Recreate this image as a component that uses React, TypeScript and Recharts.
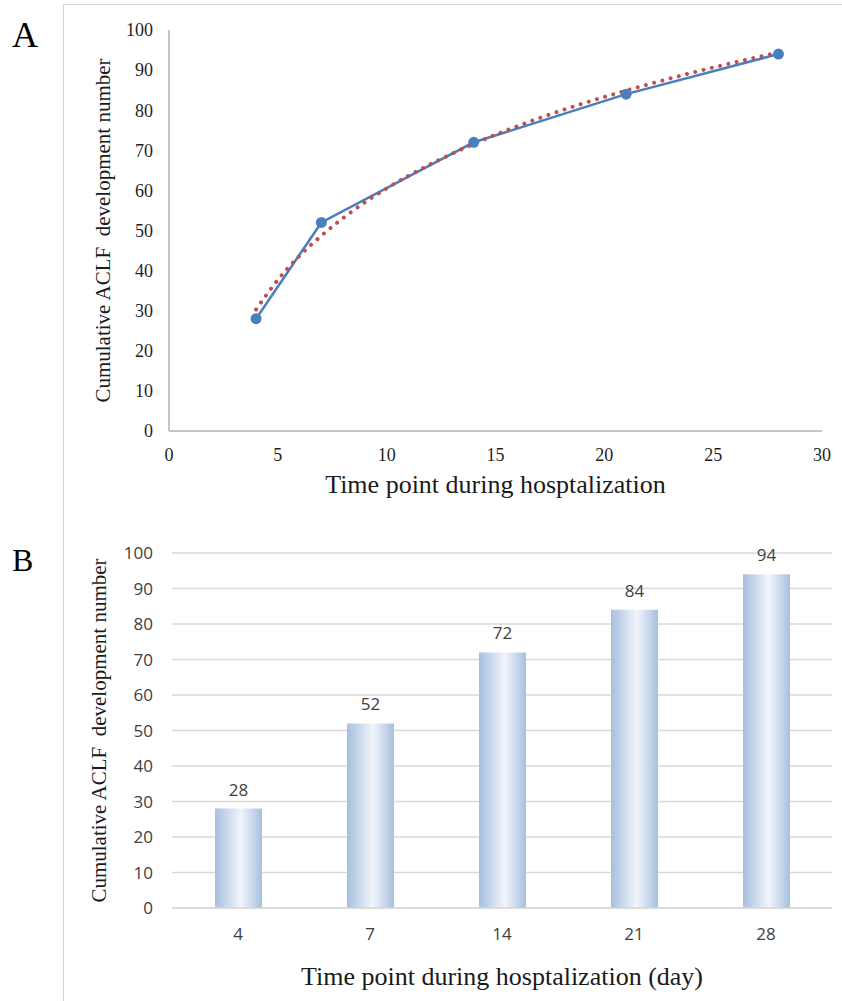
import React from 'react'
import {
  LineChart, Line, BarChart, Bar, XAxis, YAxis, CartesianGrid, LabelList, Label
} from 'recharts'

// panel A: cumulative ACLF cases by day, with the dotted log trend
const days = [4, 7, 14, 21, 28]
const cumulative = [28, 52, 72, 84, 94]
const trendDays = [4, 5, 6, 7, 8, 10, 12, 14, 17, 21, 24, 28]
const trendValues = [30.3, 37.7, 43.7, 48.7, 53.1, 60.5, 66.5, 71.6, 78.0, 84.9, 89.3, 94.4]

const xTicksA = [0, 5, 10, 15, 20, 25, 30]
const yTicks = [0, 10, 20, 30, 40, 50, 60, 70, 80, 90, 100]

// panel B: same counts as categories
const dayLabels = ['4', '7', '14', '21', '28']

const yTitle = 'Cumulative ACLF  development number'
const xTitleA = 'Time point during hosptalization'
const xTitleB = 'Time point during hosptalization (day)'

const SERIF = '"Liberation Serif", "Times New Roman", serif'
const SANS = '"Open Sans", "Liberation Sans", sans-serif'

const pointsA = days.map((d, i) => ({ x: d, y: cumulative[i] }))
const trendA = trendDays.map((d, i) => ({ x: d, y: trendValues[i] }))
const barsB = dayLabels.map((d, i) => ({ day: d, value: cumulative[i] }))

const serifTick = { fontFamily: SERIF, fontSize: 18, fill: '#1f1f1f', style: { fontFamily: SERIF } }
const sansTick = { fontFamily: SANS, fontSize: 17, fill: '#404040', style: { fontFamily: SANS } }

function yTitleContent(baselineX: number, size: number) {
  return (props: any) => {
    const vb = props.viewBox || {}
    const cy = vb.y + vb.height / 2
    return (
      <text
        x={baselineX}
        y={cy}
        transform={`rotate(-90 ${baselineX} ${cy})`}
        textAnchor="middle"
        fontFamily={SERIF}
        fontSize={size}
        fill="#1a1a1a"
        style={{ whiteSpace: 'pre', fontFamily: SERIF }}
      >
        {yTitle}
      </text>
    )
  }
}

function PanelA() {
  return (
    <LineChart
      width={842}
      height={501}
      margin={{ top: 30, right: 20, bottom: 0, left: 0 }}
    >
      <XAxis
        type="number"
        dataKey="x"
        domain={[0, 30]}
        ticks={xTicksA}
        interval={0}
        height={70}
        axisLine={{ stroke: '#c4c4c4', strokeWidth: 2 }}
        tickLine={false}
        tickSize={0}
        tickMargin={17}
        tick={serifTick}
      >
        <Label
          value={xTitleA}
          position="insideBottom"
          offset={8}
          fontFamily={SERIF}
          fontSize={26}
          fill="#1a1a1a"
        />
      </XAxis>
      <YAxis
        type="number"
        domain={[0, 100]}
        ticks={yTicks}
        interval={0}
        width={169}
        axisLine={{ stroke: '#c4c4c4', strokeWidth: 2 }}
        tickLine={false}
        tickSize={0}
        tickMargin={16}
        tick={serifTick}
      >
        <Label content={yTitleContent(110, 21)} />
      </YAxis>
      <Line
        data={pointsA}
        dataKey="y"
        type="linear"
        stroke="#4a7ebf"
        strokeWidth={2.5}
        dot={{ r: 5.5, fill: '#4a7ebf', stroke: '#4a7ebf', strokeWidth: 0 }}
        activeDot={false}
        isAnimationActive={false}
      />
      <Line
        data={trendA}
        dataKey="y"
        type="monotone"
        stroke="#c0504d"
        strokeWidth={4}
        strokeDasharray="0.01 8.5"
        strokeLinecap="round"
        dot={false}
        activeDot={false}
        isAnimationActive={false}
      />
    </LineChart>
  )
}

function PanelB() {
  return (
    <BarChart
      width={842}
      height={501}
      data={barsB}
      margin={{ top: 53, right: 10, bottom: 0, left: 0 }}
    >
      <defs>
        <linearGradient id="barGrad" x1="0" y1="0" x2="1" y2="0">
          <stop offset="0%" stopColor="#a7bfdf" />
          <stop offset="55%" stopColor="#f1f5fb" />
          <stop offset="100%" stopColor="#a7bfdf" />
        </linearGradient>
      </defs>
      <CartesianGrid vertical={false} stroke="#d9d9d9" strokeWidth={1.5} />
      <XAxis
        dataKey="day"
        height={93}
        axisLine={{ stroke: '#d9d9d9', strokeWidth: 1.5 }}
        tickLine={false}
        tickSize={0}
        tickMargin={20}
        tick={sansTick}
      >
        <Label
          value={xTitleB}
          position="insideBottom"
          offset={16}
          fontFamily={SERIF}
          fontSize={26}
          fill="#1a1a1a"
        />
      </XAxis>
      <YAxis
        type="number"
        domain={[0, 100]}
        ticks={yTicks}
        interval={0}
        width={172}
        axisLine={false}
        tickLine={false}
        tickSize={0}
        tickMargin={19}
        tick={sansTick}
      >
        <Label content={yTitleContent(106, 21)} />
      </YAxis>
      <Bar dataKey="value" barSize={47} fill="url(#barGrad)" isAnimationActive={false}>
        <LabelList
          dataKey="value"
          position="top"
          offset={13}
          fontFamily={SANS}
          fontSize={17}
          fill="#404040"
        />
      </Bar>
    </BarChart>
  )
}

export default function App() {
  return (
    <div style={{ position: 'absolute', left: 0, top: 0, width: 842, height: 1001, background: '#fff' }}>
      <svg
        width={842}
        height={1001}
        style={{ position: 'absolute', left: 0, top: 0, pointerEvents: 'none' }}
      >
        <line x1={63} y1={4.5} x2={842} y2={4.5} stroke="#d4d4d4" strokeWidth={1} />
        <line x1={63.5} y1={4} x2={63.5} y2={1001} stroke="#d4d4d4" strokeWidth={1} />
        <text x={12} y={47} fontFamily={SERIF} fontSize={36} fill="#000">A</text>
        <text x={12} y={571} fontFamily={SERIF} fontSize={32} fill="#000">B</text>
      </svg>
      <div style={{ position: 'absolute', left: 0, top: 0 }}>
        <PanelA />
      </div>
      <div style={{ position: 'absolute', left: 0, top: 500 }}>
        <PanelB />
      </div>
    </div>
  )
}
